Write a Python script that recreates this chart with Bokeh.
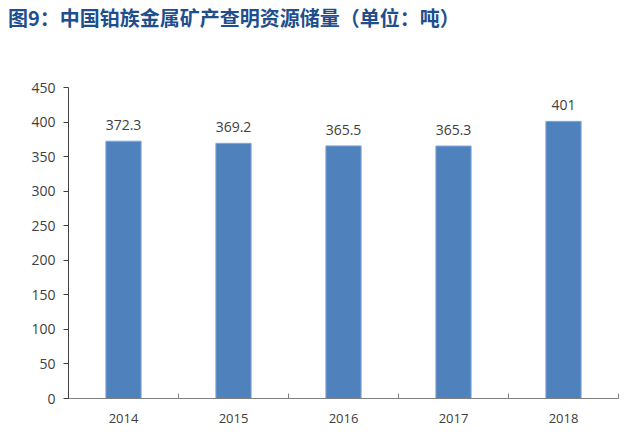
from bokeh.plotting import figure
from bokeh.models import ColumnDataSource, FixedTicker, Range1d, Div, LabelSet
from bokeh.layouts import column
from bokeh.core.properties import value
from bokeh.embed import file_html
from bokeh.resources import INLINE

title_text = "图9：中国铂族金属矿产查明资源储量（单位：吨）"
years = ["2014", "2015", "2016", "2017", "2018"]
reserves = [372.3, 369.2, 365.5, 365.3, 401]
label_text = ["372.3", "369.2", "365.5", "365.3", "401"]
y_ticks = [0, 50, 100, 150, 200, 250, 300, 350, 400, 450]

xpos = [i + 0.5 for i in range(len(years))]
src = ColumnDataSource(dict(x=xpos, top=reserves, lab=label_text))

div = Div(text=title_text, width=641, height=40, margin=(0, 0, 0, 0),
          styles={"font-family": "'Noto Sans CJK SC'", "font-size": "20px",
                  "font-weight": "bold", "color": "#1F4E8C",
                  "padding-left": "8px", "padding-top": "6px", "line-height": "24px",
                  "white-space": "nowrap"})

p = figure(width=641, height=399, output_backend="svg", toolbar_location=None,
           x_range=Range1d(0, len(years)), y_range=Range1d(0, 450),
           min_border_left=68, min_border_right=23, min_border_top=47, min_border_bottom=41)
p.outline_line_color = None
p.grid.grid_line_color = None
p.background_fill_color = "white"
p.border_fill_color = "white"

p.vbar(x="x", top="top", width=0.32, bottom=0, source=src,
       fill_color="#4F81BD", line_color="#7FA7D8", line_width=1)

labels = LabelSet(x="x", y="top", text="lab", source=src, text_align="center",
                  text_baseline="bottom", y_offset=11, text_font_size=value("14px"),
                  text_color=value("#404040"), text_font=value("Open Sans"))
p.add_layout(labels)

p.xaxis.ticker = FixedTicker(ticks=xpos, minor_ticks=list(range(len(years) + 1)))
p.xaxis.major_label_overrides = {x: y for x, y in zip(xpos, years)}
p.xaxis.major_tick_line_color = None
p.xaxis.minor_tick_in = 5
p.xaxis.minor_tick_out = 0
p.xaxis.minor_tick_line_color = "#808080"
p.xaxis.axis_line_color = "#808080"
p.xaxis.major_label_text_font_size = "13px"
p.xaxis.major_label_text_color = "#404040"
p.xaxis.major_label_text_font = "Open Sans"
p.xaxis.major_label_standoff = 9

p.yaxis.ticker = FixedTicker(ticks=y_ticks)
p.yaxis.minor_tick_line_color = None
p.yaxis.major_tick_in = 0
p.yaxis.major_tick_out = 5
p.yaxis.major_tick_line_color = "#404040"
p.yaxis.axis_line_color = "#404040"
p.yaxis.major_label_text_font_size = "14px"
p.yaxis.major_label_text_color = "#404040"
p.yaxis.major_label_text_font = "Open Sans"
p.yaxis.major_label_standoff = 8

layout = column(div, p, spacing=0)
open("out.html", "w").write(file_html(layout, INLINE))
